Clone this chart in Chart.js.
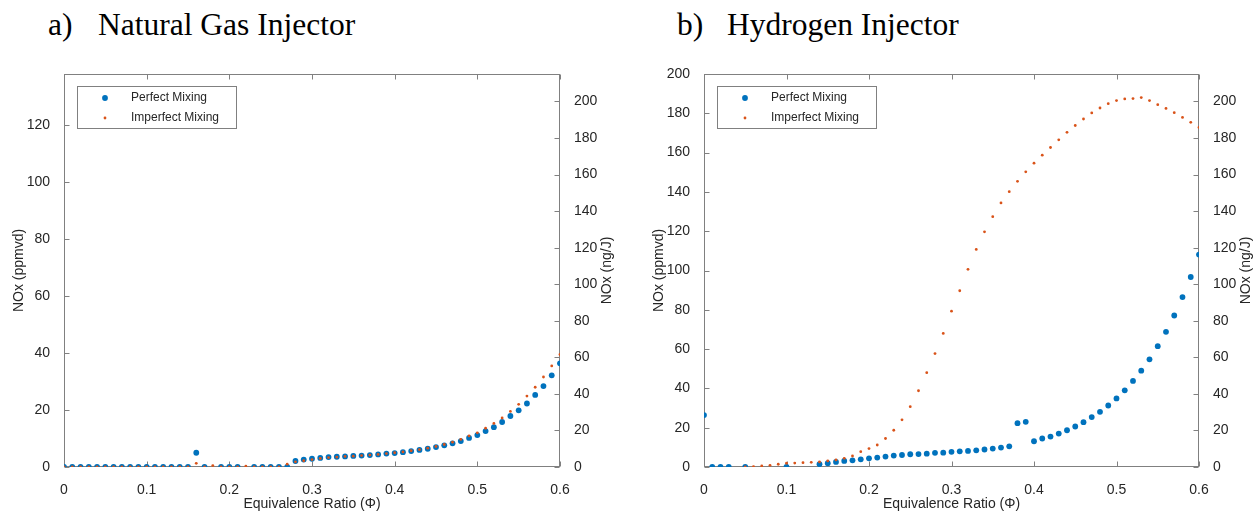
<!DOCTYPE html>
<html>
<head>
<meta charset="utf-8">
<script src="https://cdn.jsdelivr.net/npm/chart.js@4.4.1/dist/chart.umd.min.js"></script>
<style>
  html, body { margin: 0; padding: 0; background: #fff; overflow: hidden; }
  body { width: 1257px; height: 511px; position: relative; }
  .title { position: absolute; top: 9px; font: 31.5px "Liberation Serif", "Times New Roman", serif; color: #000; line-height: 32px; white-space: nowrap; }
  canvas { position: absolute; top: 0; }
</style>
</head>
<body>
<div class="title" style="left:48px">a)</div>
<div class="title" style="left:98px">Natural Gas Injector</div>
<div class="title" style="left:677px">b)</div>
<div class="title" style="left:727px">Hydrogen Injector</div>
<canvas id="ng" width="628" height="511" style="left:0"></canvas>
<canvas id="h2" width="617" height="511" style="left:640px"></canvas>
<script>
// equivalence ratio, one point every 0.01
const phi = [0, 0.01, 0.02, 0.03, 0.04, 0.05, 0.06, 0.07, 0.08, 0.09,
  0.1, 0.11, 0.12, 0.13, 0.14, 0.15, 0.16, 0.17, 0.18, 0.19,
  0.2, 0.21, 0.22, 0.23, 0.24, 0.25, 0.26, 0.27, 0.28, 0.29,
  0.3, 0.31, 0.32, 0.33, 0.34, 0.35, 0.36, 0.37, 0.38, 0.39,
  0.4, 0.41, 0.42, 0.43, 0.44, 0.45, 0.46, 0.47, 0.48, 0.49,
  0.5, 0.51, 0.52, 0.53, 0.54, 0.55, 0.56, 0.57, 0.58, 0.59, 0.6];

// a) natural gas injector, NOx in ppmvd
const ngPerfect = [0, 0, 0, 0, 0, 0, 0, 0, 0, 0,
  0, 0, 0, 0, 0, 0, 5.0, 0, null, 0,
  0, 0, null, 0, 0, 0, 0, 0, 2.1, 2.6,
  2.9, 3.2, 3.5, 3.6, 3.7, 3.9, 4.0, 4.2, 4.4, 4.7,
  4.9, 5.2, 5.6, 6.0, 6.4, 7.0, 7.6, 8.3, 9.1, 10.2,
  11.2, 12.6, 14.0, 15.8, 17.9, 19.9, 22.3, 25.3, 28.4, 32.2, 36.4];
const ngImperfect = [0, 0, 0, 0, 0, 0, 0, 0, 0, 0,
  0, 0, 0, 0, 0, 0, 1.3, 0, 0.5, 0,
  0, 0, 0.3, 0, 0, 0, 0, 1.0, 1.8, 2.2,
  2.6, 3.0, 3.3, 3.5, 3.7, 3.8, 4.0, 4.2, 4.4, 4.7,
  5.0, 5.3, 5.7, 6.1, 6.6, 7.2, 7.9, 8.7, 9.7, 10.9,
  12.0, 13.6, 15.3, 17.2, 19.5, 22.0, 24.9, 28.0, 31.6, 35.5, 39.5];

// b) hydrogen injector, NOx in ppmvd
const h2Perfect = [26.4, 0, 0, 0, null, 0, null, null, null, null,
  0, null, null, null, 1.4, 1.9, 2.6, 3.1, 3.4, 3.9,
  4.4, 4.8, 5.3, 5.8, 6.1, 6.5, 6.6, 6.8, 7.2, 7.3,
  7.7, 8.0, 8.2, 8.5, 8.9, 9.4, 9.9, 10.5, 22.3, 23.0,
  13.1, 14.5, 15.5, 17.0, 18.7, 20.6, 22.8, 25.4, 28.1, 31.3,
  34.9, 39.0, 43.8, 49.0, 54.8, 61.5, 68.8, 77.1, 86.5, 96.7, 108.1];
const h2Imperfect = [null, null, null, null, null, 0, 0.2, 0.5, 0.85, 1.4,
  1.9, 2.0, 2.2, 2.4, 2.6, 3.1, 3.6, 4.4, 5.6, 7.8,
  9.4, 11.2, 14.5, 18.7, 24.0, 30.7, 38.8, 48.0, 57.7, 68.0,
  79.3, 89.7, 100.6, 110.7, 119.7, 127.4, 134.4, 140.1, 145.4, 150.2,
  154.6, 158.7, 162.6, 166.5, 170.3, 173.8, 177.1, 180.2, 182.7, 184.9,
  186.5, 187.3, 187.5, 188.0, 186.5, 184.4, 182.5, 180.3, 177.9, 175.4, 172.8];

const phiTicks = [0, 0.1, 0.2, 0.3, 0.4, 0.5, 0.6];
const ngPpmTicks = [0, 20, 40, 60, 80, 100, 120];
const h2PpmTicks = [0, 20, 40, 60, 80, 100, 120, 140, 160, 180, 200];
const ngJTicks = [0, 20, 40, 60, 80, 100, 120, 140, 160, 180, 200];

const seriesNames = ['Perfect Mixing', 'Imperfect Mixing'];
const BLUE = '#0072BD';
const ORANGE = '#D95319';
const INK = '#262626';
const AXIS = '#808080';
const FONT = { family: '"Liberation Sans", Arial, sans-serif', size: 14 };

Chart.defaults.font.family = FONT.family;
Chart.defaults.color = INK;

const matlabAxes = {
  id: 'matlabAxes',
  beforeDatasetsDraw(chart) {
    const { ctx, chartArea: a, scales } = chart;
    const l = Math.round(a.left) + 0.5, r = Math.round(a.right) - 0.5;
    const t = Math.round(a.top) + 0.5, b = Math.round(a.bottom) - 0.5;
    ctx.save();
    ctx.strokeStyle = AXIS;
    ctx.lineWidth = 1;
    ctx.strokeRect(l, t, r - l, b - t);
    ctx.beginPath();
    scales.x.ticks.forEach(tk => {
      const px = Math.round(scales.x.getPixelForValue(tk.value)) + 0.5;
      ctx.moveTo(px, b); ctx.lineTo(px, b - 5);
      ctx.moveTo(px, t); ctx.lineTo(px, t + 5);
    });
    scales.y.ticks.forEach(tk => {
      const py = Math.round(scales.y.getPixelForValue(tk.value)) + 0.5;
      ctx.moveTo(l, py); ctx.lineTo(l + 5, py);
    });
    scales.y1.ticks.forEach(tk => {
      const py = Math.round(scales.y1.getPixelForValue(tk.value)) + 0.5;
      ctx.moveTo(r, py); ctx.lineTo(r - 5, py);
    });
    ctx.stroke();
    ctx.restore();
  },
  afterDatasetsDraw(chart) {
    const { ctx, chartArea: a } = chart;
    ctx.save();
    // right axis label, reads bottom to top like the left one
    ctx.fillStyle = INK;
    ctx.font = '14px ' + FONT.family;
    ctx.textAlign = 'center';
    ctx.textBaseline = 'middle';
    ctx.translate(a.right + 47, (a.top + a.bottom) / 2);
    ctx.rotate(-Math.PI / 2);
    ctx.fillText('NOx (ng/J)', 0, 0);
    ctx.restore();

    // legend box
    const bx = Math.round(a.left) + 13, by = Math.round(a.top) + 12;
    ctx.save();
    ctx.fillStyle = '#fff';
    ctx.fillRect(bx, by, 159, 42);
    ctx.strokeStyle = AXIS;
    ctx.strokeRect(bx + 0.5, by + 0.5, 159, 42);
    ctx.font = '12px ' + FONT.family;
    ctx.textBaseline = 'middle';
    chart.data.datasets.slice().sort((p, q) => p.legendRow - q.legendRow).forEach((ds, i) => {
      const cy = by + 12 + i * 20;
      ctx.fillStyle = ds.pointBackgroundColor;
      ctx.beginPath();
      ctx.arc(bx + 28, cy, ds.pointRadius, 0, Math.PI * 2);
      ctx.fill();
      ctx.fillStyle = INK;
      ctx.fillText(ds.label, bx + 54, cy);
    });
    ctx.restore();
  }
};

function points(ys) {
  return phi.map((x, i) => ({ x, y: ys[i] })).filter(p => p.y !== null);
}

function makeChart(id, perfect, imperfect, ppmMax, ppmTicks, rightAxisW) {
  return new Chart(document.getElementById(id), {
    type: 'scatter',
    data: {
      datasets: [
        { label: seriesNames[1], legendRow: 1, data: points(imperfect), order: 0,
          pointRadius: 1.4, pointBackgroundColor: ORANGE, pointBorderWidth: 0 },
        { label: seriesNames[0], legendRow: 0, data: points(perfect), order: 1,
          pointRadius: 2.9, pointBackgroundColor: BLUE, pointBorderWidth: 0 }
      ]
    },
    options: {
      responsive: false,
      animation: false,
      devicePixelRatio: 1,
      layout: { padding: { top: 74, left: 0, right: 0, bottom: 0 }, autoPadding: false },
      plugins: { legend: { display: false }, tooltip: { enabled: false } },
      scales: {
        x: {
          type: 'linear', min: 0, max: 0.6,
          grid: { display: false }, border: { display: false },
          afterBuildTicks: s => { s.ticks = phiTicks.map(v => ({ value: v })); },
          ticks: { font: FONT, color: INK, padding: 7, maxRotation: 0, autoSkip: false, callback: v => String(v) },
          title: { display: true, text: 'Equivalence Ratio (Φ)', font: FONT, color: INK, padding: { top: 0, bottom: -2 } },
          afterFit: s => { s.height = 44; }
        },
        y: {
          type: 'linear', position: 'left', min: 0, max: ppmMax,
          grid: { display: false }, border: { display: false },
          afterBuildTicks: s => { s.ticks = ppmTicks.map(v => ({ value: v })); },
          ticks: { font: FONT, color: INK, padding: 6 },
          title: { display: true, text: 'NOx (ppmvd)', font: FONT, color: INK, padding: { top: 11, bottom: 0 } },
          afterFit: s => { s.width = 64; }
        },
        y1: {
          type: 'linear', position: 'right', min: 0, max: 215,
          grid: { display: false }, border: { display: false },
          afterBuildTicks: s => { s.ticks = ngJTicks.map(v => ({ value: v })); },
          ticks: { font: FONT, color: INK, padding: 6 },
          afterFit: s => { s.width = rightAxisW; }
        }
      }
    },
    plugins: [matlabAxes]
  });
}

makeChart('ng', ngPerfect, ngImperfect, 138, ngPpmTicks, 68);
makeChart('h2', h2Perfect, h2Imperfect, 200, h2PpmTicks, 58);
</script>
</body>
</html>
